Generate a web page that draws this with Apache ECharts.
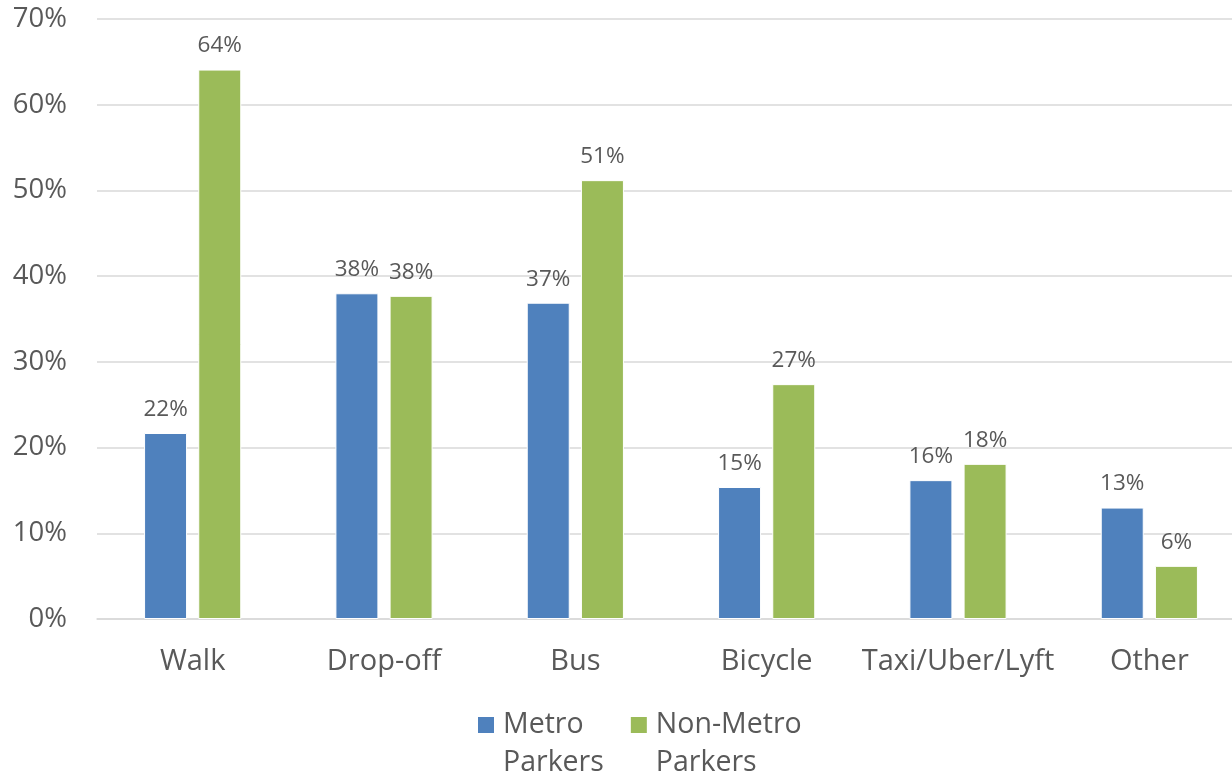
<!DOCTYPE html>
<html>
<head>
<meta charset="utf-8">
<script src="https://cdn.jsdelivr.net/npm/echarts@6/dist/echarts.min.js"></script>
<style>
html,body{margin:0;padding:0;background:#fff;overflow:hidden;}
#chart{width:1245px;height:773px;}
</style>
</head>
<body>
<div id="chart"></div>
<script>
const categories = ['Walk', 'Drop-off', 'Bus', 'Bicycle', 'Taxi/Uber/Lyft', 'Other'];
const metroParkers = [21.7, 38.0, 36.9, 15.4, 16.2, 13.0];
const nonMetroParkers = [64.1, 37.7, 51.2, 27.4, 18.1, 6.2];
const seriesNames = ['Metro\nParkers', 'Non-Metro\nParkers'];
const yTicks = [0, 10, 20, 30, 40, 50, 60, 70];

const FONT = '"Open Sans", "Noto Sans", sans-serif';
const TXT = '#595959';

const chart = echarts.init(document.getElementById('chart'));
const labelCfg = {
  show: true,
  position: 'top',
  distance: 12,
  fontFamily: FONT,
  fontSize: 22.5,
  color: TXT,
  formatter: p => Math.round(p.value) + '%'
};
chart.setOption({
  animation: false,
  backgroundColor: '#fff',
  grid: { left: 97, top: 19, right: 0, bottom: 154, containLabel: false },
  legend: {
    left: 471,
    top: 663,
    itemWidth: 18,
    itemHeight: 18,
    itemGap: 25,
    icon: 'rect',
    formatter: name => '\n' + name,
    textStyle: {
      fontFamily: FONT,
      fontSize: 28.5,
      color: TXT,
      lineHeight: 38,
      padding: [0, 0, 0, 3]
    },
    data: seriesNames
  },
  xAxis: {
    type: 'category',
    data: categories,
    axisLine: { show: true, lineStyle: { color: '#d9d9d9', width: 1.5 } },
    axisTick: { show: false },
    axisLabel: { fontFamily: FONT, fontSize: 29, color: TXT, margin: 28, interval: 0 }
  },
  yAxis: {
    type: 'value',
    min: yTicks[0],
    max: yTicks[yTicks.length - 1],
    interval: 10,
    axisLine: { show: false },
    axisTick: { show: false },
    splitLine: { lineStyle: { color: '#d9d9d9', width: 1.5 } },
    axisLabel: { fontFamily: FONT, fontSize: 27.5, color: TXT, margin: 30, formatter: '{value}%' }
  },
  series: [
    {
      name: seriesNames[0],
      type: 'bar',
      data: metroParkers,
      barWidth: 43,
      barGap: '26%',
      itemStyle: { color: '#4f81bd', borderColor: '#ffffff', borderWidth: 1 },
      label: labelCfg
    },
    {
      name: seriesNames[1],
      type: 'bar',
      data: nonMetroParkers,
      barWidth: 43,
      itemStyle: { color: '#9bbb59', borderColor: '#ffffff', borderWidth: 1 },
      label: labelCfg
    }
  ]
});
</script>
</body>
</html>
